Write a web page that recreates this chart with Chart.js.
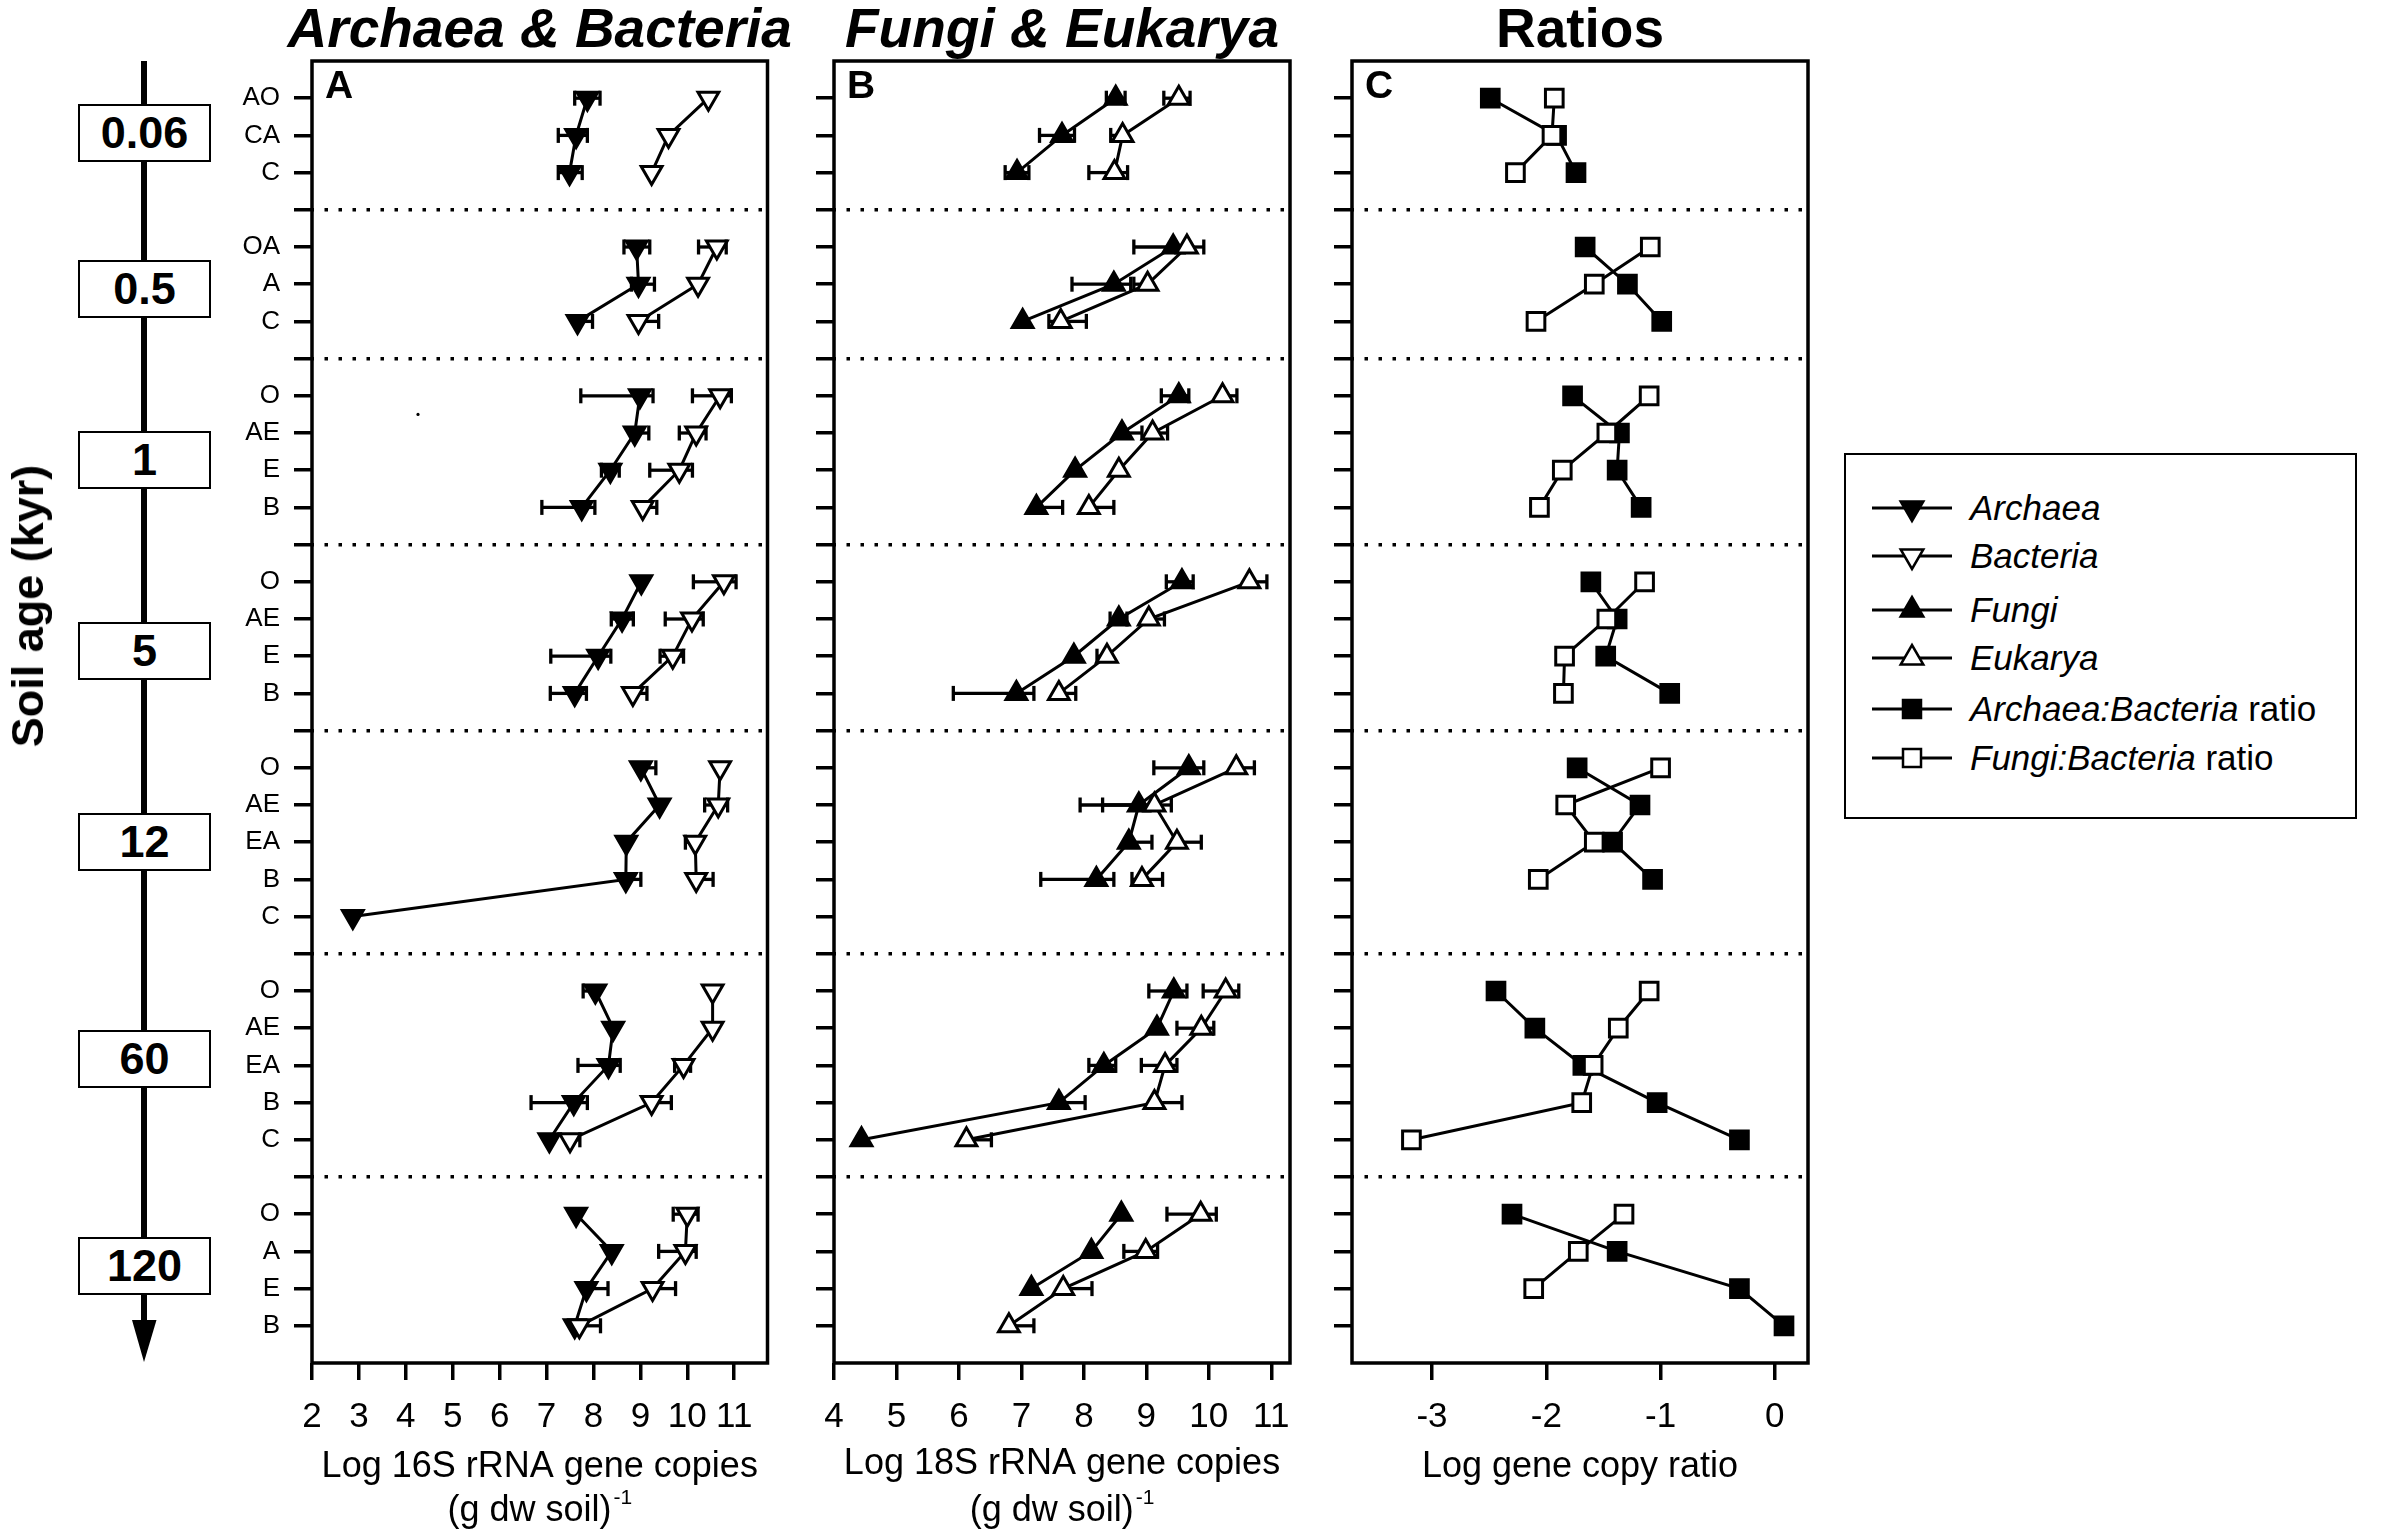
<!DOCTYPE html>
<html>
<head>
<meta charset="utf-8">
<script src="https://cdn.jsdelivr.net/npm/chart.js@4.4.1/dist/chart.umd.min.js"></script>
<style>
  html, body { margin: 0; padding: 0; background: #fff; }
  body { width: 2400px; height: 1535px; position: relative; overflow: hidden;
         font-family: "Liberation Sans", Arial, Helvetica, sans-serif; color: #000; }
  canvas { position: absolute; top: 0; }
  .ageBox { position: absolute; box-sizing: border-box; border: 2px solid #000; background: #fff;
            font-weight: bold; font-size: 45px; text-align: center; }
  .ageTitle { position: absolute; font-weight: bold; font-size: 45px; white-space: nowrap;
              transform: translate(-50%, -50%) rotate(-90deg); }
  .legendBox { position: absolute; box-sizing: border-box; border: 2.7px solid #000; }
  .legText { position: absolute; font-size: 35px; white-space: nowrap; height: 40px; line-height: 40px; }
  .legText i { font-style: italic; }
  .legIcon { position: absolute; }
</style>
</head>
<body>
<canvas id="panelA" width="600" height="1535" style="left:200px"></canvas>
<canvas id="panelB" width="520" height="1535" style="left:800px"></canvas>
<canvas id="panelC" width="520" height="1535" style="left:1318px"></canvas>
<div id="ageAxis"></div>
<div id="legend"></div>
<script>
// ---------------- DATA ----------------
const soilAges   = ['0.06', '0.5', '1', '5', '12', '60', '120'];
const groupSizes = [3, 3, 4, 4, 5, 5, 4];
const horizons   = ['AO','CA','C', 'OA','A','C', 'O','AE','E','B', 'O','AE','E','B',
                    'O','AE','EA','B','C', 'O','AE','EA','B','C', 'O','A','E','B'];

// Panel A: log 16S rRNA gene copies (g dw soil)^-1
const archaea       = [7.87,7.63,7.49, 8.92,8.96,7.66, 8.99,8.88,8.36,7.75, 9.02,8.61,8.10,7.60,
                       9.01,9.41,8.70,8.69,2.87, 8.04,8.42,8.32,7.58,7.06, 7.63,8.39,7.85,7.60];
const archaeaErrLo  = [0.27,0.38,0.24, 0.27,0.15,0, 1.26,0,0.19,0.85, 0,0.23,1.01,0.52,
                       0,0,0,0,0, 0.26,0,0.65,0.91,0, 0,0,0,0];
const archaeaErrHi  = [0.27,0.24,0.27, 0.28,0.34,0.32, 0.28,0.30,0.19,0.28, 0,0.24,0.27,0.25,
                       0.32,0,0,0.32,0, 0,0,0.25,0.29,0, 0,0,0.46,0];
const bacteria      = [10.45,9.60,9.24, 10.63,10.23,8.96, 10.70,10.19,9.83,9.05, 10.78,10.10,9.69,8.84,
                       10.70,10.66,10.17,10.19,null, 10.54,10.54,9.92,9.24,7.50, 10.00,9.96,9.26,7.70];
const bacteriaErrLo = [0,0,0, 0.39,0,0, 0.59,0.36,0.63,0, 0.65,0.57,0.27,0,
                       0,0.29,0.21,0,0, 0,0,0.19,0,0, 0.30,0.57,0,0];
const bacteriaErrHi = [0,0,0, 0.20,0,0.43, 0.24,0.21,0.28,0.30, 0.26,0.24,0.23,0.30,
                       0,0.20,0,0.36,0, 0,0,0.15,0.42,0.21, 0.23,0.23,0.49,0.45];
const strayMark     = [{ x: 4.26, y: 9.5 }];

// Panel B: log 18S rRNA gene copies (g dw soil)^-1
const fungi         = [8.51,7.65,6.93, 9.43,8.48,7.02, 9.52,8.61,7.86,7.24, 9.57,8.56,7.84,6.92,
                       9.68,8.88,8.72,8.20,null, 9.44,9.17,8.32,7.60,4.44, 8.60,8.12,7.16,null];
const fungiErrLo    = [0.15,0.36,0.19, 0.63,0.67,0, 0.28,0,0,0, 0.25,0.14,0,1.01,
                       0.56,0.94,0,0.89,0, 0.40,0,0.24,0,0, 0,0,0,0];
const fungiErrHi    = [0.15,0.20,0.19, 0,0.27,0, 0.16,0.32,0,0.42, 0.18,0.13,0,0.28,
                       0.24,0,0.37,0.28,0, 0.21,0,0.19,0.42,0, 0,0,0,0];
const eukarya       = [9.52,8.62,8.49, 9.65,9.02,7.63, 10.22,9.10,8.56,8.08, 10.65,9.04,8.37,7.60,
                       10.44,9.13,9.49,8.93,null, 10.27,9.88,9.30,9.13,6.12, 9.87,8.99,7.67,6.80];
const eukaryaErrLo  = [0.24,0.19,0.41, 0,0.22,0.19, 0,0,0,0, 0,0,0.16,0,
                       0,0.83,0,0.16,0, 0.36,0.39,0.38,0,0, 0.54,0.35,0,0];
const eukaryaErrHi  = [0.18,0,0.21, 0.27,0,0.41, 0.23,0.24,0,0.40, 0.28,0.25,0,0.27,
                       0.29,0.27,0.39,0.33,0, 0.21,0.20,0.19,0.44,0.40, 0.25,0.19,0.46,0.40];

// Panel C: log gene copy ratios
const archaeaBacteriaRatio = [-2.49,-1.91,-1.74, -1.66,-1.29,-0.99, -1.77,-1.36,-1.38,-1.17, -1.61,-1.38,-1.48,-0.92,
                              -1.73,-1.18,-1.42,-1.07,null, -2.44,-2.10,-1.68,-1.03,-0.31, -2.30,-1.38,-0.31,0.08];
const fungiBacteriaRatio   = [-1.93,-1.95,-2.27, -1.09,-1.58,-2.09, -1.10,-1.47,-1.86,-2.06, -1.14,-1.47,-1.84,-1.85,
                              -1.00,-1.83,-1.58,-2.07,null, -1.10,-1.37,-1.59,-1.69,-3.18, -1.32,-1.72,-2.11,null];

// Axis ticks and limits
const xTicksA = [2, 3, 4, 5, 6, 7, 8, 9, 10, 11];
const xTicksB = [4, 5, 6, 7, 8, 9, 10, 11];
const xTicksC = [-3, -2, -1, 0];
const xLimitsA = [2, 11.71];
const xLimitsB = [4, 11.30];
const xLimitsC = [-3.70, 0.29];

const legendLabels = [
  ['Archaea', ''], ['Bacteria', ''], ['Fungi', ''], ['Eukarya', ''],
  ['Archaea:Bacteria', ' ratio'], ['Fungi:Bacteria', ' ratio']
];

// ---------------- LAYOUT (not data) ----------------
const FONT = '"Liberation Sans", Arial, Helvetica, sans-serif';
const ageBoxCenters = [133, 289, 460, 651, 842, 1059, 1266];
const legendRowY = [508, 556, 610, 658, 709, 758];

// row positions (category slots) along the reversed y scale
const rowPos = [], dividerPos = [];
(function () {
  let r = 0;
  groupSizes.forEach((n, gi) => {
    for (let k = 0; k < n; k++) { r++; rowPos.push(r); }
    r++;
    if (gi < groupSizes.length - 1) dividerPos.push(r);
  });
})();
const yMax = rowPos[rowPos.length - 1] + 1;
const yTickValues = rowPos.concat(dividerPos).sort((a, b) => a - b);
const rowLabel = {};
rowPos.forEach((p, i) => { rowLabel[p] = horizons[i]; });

function seriesPoints(vals, lo, hi) {
  const pts = []; let i = 0;
  groupSizes.forEach(n => {
    for (let k = 0; k < n; k++, i++) {
      const v = vals[i];
      if (v == null) pts.push({ x: null, y: null });
      else pts.push({ x: v, y: rowPos[i], lo: lo ? lo[i] : 0, hi: hi ? hi[i] : 0 });
    }
    pts.push({ x: null, y: null });
  });
  return pts;
}

function series(label, data, order, style) {
  return Object.assign({
    label, data, order,
    borderColor: '#000', borderWidth: 3, tension: 0, spanGaps: false, fill: false, clip: false,
    showLine: true, pointBorderColor: '#000', pointBorderWidth: 3, pointHoverRadius: 0
  }, style);
}

const triDown = (fill) => ({ pointStyle: 'triangle', pointRotation: 180, pointRadius: 12, pointBackgroundColor: fill });
const triUp   = (fill) => ({ pointStyle: 'triangle', pointRotation: 0, pointRadius: 12, pointBackgroundColor: fill });
const square  = (fill) => ({ pointStyle: 'rect', pointRadius: 12.5, pointBackgroundColor: fill });

// ---------------- PLUGINS ----------------
const errorBarPlugin = {
  id: 'errorBars',
  beforeDatasetsDraw(chart) {
    const { ctx, scales: { x, y } } = chart;
    ctx.save();
    ctx.strokeStyle = '#000';
    ctx.lineWidth = 3.3;
    chart.data.datasets.forEach(ds => {
      ds.data.forEach(p => {
        if (p.x == null || !isFinite(p.x)) return;
        const px = x.getPixelForValue(p.x), py = y.getPixelForValue(p.y);
        const ends = [];
        if (p.lo > 0) ends.push(x.getPixelForValue(p.x - p.lo));
        if (p.hi > 0) ends.push(x.getPixelForValue(p.x + p.hi));
        ends.forEach(ex => {
          ctx.beginPath(); ctx.moveTo(px, py); ctx.lineTo(ex, py); ctx.stroke();
          ctx.beginPath(); ctx.moveTo(ex, py - 7.5); ctx.lineTo(ex, py + 7.5); ctx.stroke();
        });
      });
    });
    ctx.restore();
  }
};

function decorPlugin(cfg) {
  return {
    id: 'decor',
    afterDraw(chart) {
      const { ctx, chartArea: a } = chart;
      const cx = (a.left + a.right) / 2;
      ctx.save();
      ctx.strokeStyle = '#000';
      ctx.lineWidth = 3.5;
      ctx.strokeRect(a.left, a.top, a.right - a.left, a.bottom - a.top);
      ctx.fillStyle = '#000';
      ctx.textBaseline = 'alphabetic';
      // panel letter
      ctx.textAlign = 'left';
      ctx.font = 'bold 39px ' + FONT;
      ctx.fillText(cfg.letter, a.left + 13, a.top + 37);
      // panel title
      ctx.textAlign = 'center';
      ctx.font = (cfg.titleItalic ? 'italic ' : '') + 'bold 55px ' + FONT;
      ctx.fillText(cfg.title, cx, a.top - 14);
      // axis caption
      ctx.font = '36px ' + FONT;
      ctx.fillText(cfg.caption1, cx, a.bottom + cfg.cap1Offset);
      if (cfg.caption2) {
        ctx.font = '36px ' + FONT;
        const w1 = ctx.measureText(cfg.caption2).width;
        ctx.font = '21px ' + FONT;
        const w2 = ctx.measureText(cfg.captionSup).width;
        const x0 = cx - (w1 + w2 + 2) / 2;
        ctx.textAlign = 'left';
        ctx.font = '36px ' + FONT;
        ctx.fillText(cfg.caption2, x0, a.bottom + 158);
        ctx.font = '21px ' + FONT;
        ctx.fillText(cfg.captionSup, x0 + w1 + 2, a.bottom + 141);
      }
      ctx.restore();
    }
  };
}

function makePanel(id, cfg) {
  return new Chart(document.getElementById(id), {
    type: 'line',
    data: { datasets: cfg.datasets },
    options: {
      responsive: false, animation: false, devicePixelRatio: 1, events: [],
      layout: { padding: { left: 0, right: cfg.padRight, top: 61, bottom: 0 } },
      plugins: { legend: { display: false }, tooltip: { enabled: false }, title: { display: false } },
      scales: {
        x: {
          type: 'linear', min: cfg.xLimits[0], max: cfg.xLimits[1],
          afterBuildTicks: s => { s.ticks = cfg.xTicks.map(v => ({ value: v })); },
          afterFit: s => { s.height = 172; },
          grid: { display: true, drawOnChartArea: false, drawTicks: true, tickLength: 17,
                  tickWidth: 3.5, tickColor: '#000', color: '#000', lineWidth: 3.5 },
          border: { display: false },
          ticks: { autoSkip: false, maxRotation: 0, minRotation: 0, padding: 16, color: '#000',
                   font: { family: FONT, size: 35, lineHeight: 1.2 }, callback: v => String(v) }
        },
        y: {
          type: 'linear', reverse: true, min: 0, max: yMax,
          afterBuildTicks: s => { s.ticks = yTickValues.map(v => ({ value: v })); },
          afterFit: s => { s.width = cfg.yWidth; },
          grid: { display: true, drawOnChartArea: true, drawTicks: true, tickLength: 18,
                  tickWidth: 3.5, tickColor: '#000', lineWidth: 3.5,
                  color: c => (c.tick && dividerPos.includes(c.tick.value)) ? '#000' : 'rgba(0,0,0,0)' },
          border: { display: false, dash: [3.5, 10.5], dashOffset: 1.5 },
          ticks: { autoSkip: false, padding: 14, color: '#000', font: { family: FONT, size: 26 },
                   callback: v => cfg.rowLabels ? (rowLabel[v] || '') : '' }
        }
      }
    },
    plugins: [errorBarPlugin, decorPlugin(cfg)]
  });
}

// ---------------- PANELS ----------------
makePanel('panelA', {
  letter: 'A', title: 'Archaea & Bacteria', titleItalic: true,
  caption1: 'Log 16S rRNA gene copies', caption2: '(g dw soil)', captionSup: '-1', cap1Offset: 114,
  xLimits: xLimitsA, xTicks: xTicksA, yWidth: 112, padRight: 32.5, rowLabels: true,
  datasets: [
    series('Bacteria', seriesPoints(bacteria, bacteriaErrLo, bacteriaErrHi), 0, triDown('#fff')),
    series('Archaea', seriesPoints(archaea, archaeaErrLo, archaeaErrHi), 1, triDown('#000')),
    series('stray', strayMark, 2, { showLine: false, pointStyle: 'circle', pointRadius: 1.6,
            pointBorderWidth: 0, pointBackgroundColor: '#000' })
  ]
});

makePanel('panelB', {
  letter: 'B', title: 'Fungi & Eukarya', titleItalic: true,
  caption1: 'Log 18S rRNA gene copies', caption2: '(g dw soil)', captionSup: '-1', cap1Offset: 111,
  xLimits: xLimitsB, xTicks: xTicksB, yWidth: 34, padRight: 30, rowLabels: false,
  datasets: [
    series('Eukarya', seriesPoints(eukarya, eukaryaErrLo, eukaryaErrHi), 0, triUp('#fff')),
    series('Fungi', seriesPoints(fungi, fungiErrLo, fungiErrHi), 1, triUp('#000'))
  ]
});

makePanel('panelC', {
  letter: 'C', title: 'Ratios', titleItalic: false,
  caption1: 'Log gene copy ratio', caption2: null, cap1Offset: 114,
  xLimits: xLimitsC, xTicks: xTicksC, yWidth: 34, padRight: 30, rowLabels: false,
  datasets: [
    series('Fungi:Bacteria ratio', seriesPoints(fungiBacteriaRatio), 0, square('#fff')),
    series('Archaea:Bacteria ratio', seriesPoints(archaeaBacteriaRatio), 1, square('#000'))
  ]
});

// ---------------- SOIL AGE AXIS ----------------
(function () {
  const host = document.getElementById('ageAxis');
  let html = '<div style="position:absolute;left:140.6px;top:61px;width:6.8px;height:1262px;background:#000"></div>';
  html += '<svg style="position:absolute;left:0;top:0" width="300" height="1535">' +
          '<polygon points="132,1320 156.5,1320 144,1362" fill="#000"/></svg>';
  soilAges.forEach((age, i) => {
    const c = ageBoxCenters[i];
    html += '<div class="ageBox" style="left:78px;width:133px;top:' + (c - 29) + 'px;height:58px;line-height:54px">' + age + '</div>';
  });
  html += '<div class="ageTitle" style="left:28px;top:606px">Soil age (kyr)</div>';
  host.innerHTML = html;
})();

// ---------------- LEGEND ----------------
(function () {
  const host = document.getElementById('legend');
  const icons = [
    '<polygon points="38.7,13.5 61.3,13.5 50,33" fill="#000" stroke="#000" stroke-width="2.5"/>',
    '<polygon points="38.7,13.5 61.3,13.5 50,33" fill="#fff" stroke="#000" stroke-width="2.5"/>',
    '<polygon points="38.7,26.5 61.3,26.5 50,7" fill="#000" stroke="#000" stroke-width="2.5"/>',
    '<polygon points="38.7,26.5 61.3,26.5 50,7" fill="#fff" stroke="#000" stroke-width="2.5"/>',
    '<rect x="41" y="11" width="18" height="18" fill="#000" stroke="#000" stroke-width="2.5"/>',
    '<rect x="41" y="11" width="18" height="18" fill="#fff" stroke="#000" stroke-width="2.5"/>'
  ];
  let html = '<div class="legendBox" style="left:1844px;top:453px;width:513px;height:366px"></div>';
  legendLabels.forEach((lab, i) => {
    const y = legendRowY[i];
    html += '<svg class="legIcon" style="left:1862px;top:' + (y - 20) + 'px" width="100" height="40">' +
            '<line x1="10" y1="20" x2="90" y2="20" stroke="#000" stroke-width="3"/>' + icons[i] + '</svg>';
    html += '<div class="legText" style="left:1970px;top:' + (y - 20) + 'px"><i>' + lab[0] + '</i>' + lab[1] + '</div>';
  });
  host.innerHTML = html;
})();
</script>
</body>
</html>
